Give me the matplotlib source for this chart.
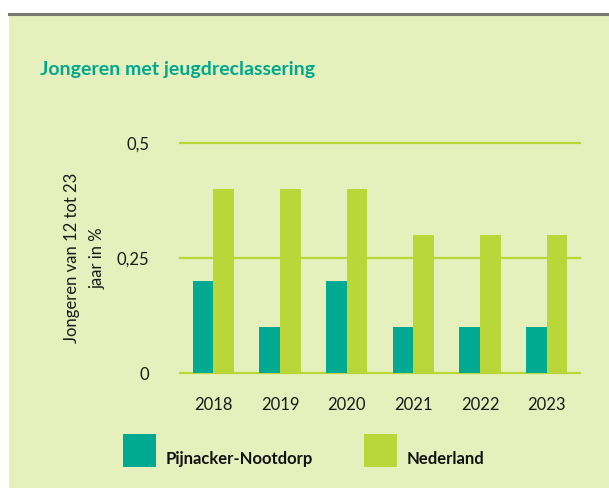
import numpy as np
import matplotlib.pyplot as plt
from matplotlib.patches import Rectangle
from matplotlib.lines import Line2D

jaren = ["2018", "2019", "2020", "2021", "2022", "2023"]
pijnacker = [0.2, 0.1, 0.2, 0.1, 0.1, 0.1]
nederland = [0.4, 0.4, 0.4, 0.3, 0.3, 0.3]
reeksen = ["Pijnacker-Nootdorp", "Nederland"]

teal = "#00aa92"
groen = "#bad739"
achtergrond = "#e6f0bc"

plt.rcParams["font.family"] = ["Lato", "DejaVu Sans"]

W, H = 609, 488
fig = plt.figure(figsize=(W / 100, H / 100), dpi=100)
fig.patch.set_facecolor("white")

# achtergrondvlak en grijze lijn bovenaan
fig.add_artist(Rectangle((9 / W, 0), 1, (H - 14) / H, transform=fig.transFigure,
                         facecolor=achtergrond, edgecolor="none", zorder=-10))
fig.add_artist(Line2D([9 / W, 1], [(H - 14) / H] * 2, transform=fig.transFigure,
                      color="#76776f", lw=2.2))

fig.text(40 / W, 1 - 70 / H, "Jongeren met jeugdreclassering", color="#00a88f",
         fontsize=14, fontweight="bold", va="center", ha="left")

ax = fig.add_axes([180 / W, 115 / H, 400 / W, 230 / H])
ax.set_facecolor("none")

x = np.arange(len(jaren))
b = 0.31
ax.bar(x - b / 2, pijnacker, b, color=teal, zorder=3)
ax.bar(x + b / 2, nederland, b, color=groen, zorder=3)

for yv in [0, 0.25, 0.5]:
    ax.axhline(yv, color=groen, lw=1.6, zorder=2, clip_on=False)

ax.set_xlim(-0.5, len(jaren) - 0.5)
ax.set_ylim(0, 0.5)
ax.set_yticks([0, 0.25, 0.5])
ax.set_yticklabels(["0", "0,25", "0,5"])
ax.set_xticks(x)
ax.set_xticklabels(jaren)
ax.tick_params(length=0, labelsize=12, colors="#1a1a1a")
ax.tick_params(axis="y", pad=22)
ax.tick_params(axis="x", pad=17)
for s in ax.spines.values():
    s.set_visible(False)

ax.set_ylabel("Jongeren van 12 tot 23\njaar in %", fontsize=12, color="#1a1a1a",
              labelpad=8, linespacing=1.75)

# legenda
kleuren = [teal, groen]
lx = [123, 364]
for i, naam in enumerate(reeksen):
    fig.add_artist(Rectangle((lx[i] / W, 1 - 467 / H), 33 / W, 33 / H,
                             transform=fig.transFigure, facecolor=kleuren[i],
                             edgecolor="none"))
    fig.text((lx[i] + 43) / W, 1 - 459 / H, naam, fontsize=12, fontweight="bold",
             color="#111111", va="center", ha="left")

fig.savefig("out.png", dpi=100, facecolor=fig.get_facecolor())
